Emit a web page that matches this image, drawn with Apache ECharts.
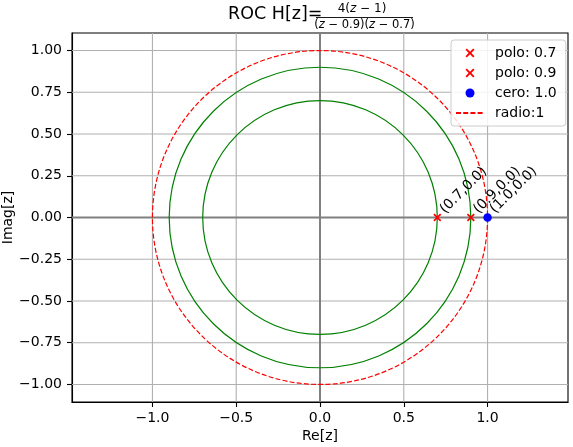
<!DOCTYPE html>
<html><head><meta charset="utf-8">
<script src="https://cdn.jsdelivr.net/npm/echarts@6/dist/echarts.min.js"></script>
<style>html,body{margin:0;padding:0;background:#fff}#c{width:573px;height:447px}</style>
</head><body><div id="c"></div>
<script>
// ---- data ----
const polos = [[0.7, 0.0], [0.9, 0.0]];
const ceros = [[1.0, 0.0]];
const rocRadios = [0.7, 0.9];
const unitRadio = [1.0];
const xTicks = [-1.0, -0.5, 0.0, 0.5, 1.0];
const yTicks = [-1.0, -0.75, -0.5, -0.25, 0.0, 0.25, 0.5, 0.75, 1.0];
const xRange = [-1.48, 1.48];
const yRange = [-1.105, 1.105];
const zeroLines = [0.0];

const FONT = 'DejaVu Sans';
const fmt = (v, d) => { let s = Math.abs(v) < 1e-9 ? (0).toFixed(d) : v.toFixed(d); return s.replace('-', '\u2212'); };
const ptLabel = p => '(' + p[0].toFixed(1) + ',' + p[1].toFixed(1) + ')';
const crossPath = 'path://M0,1.5 L1.5,0 L5,3.5 L8.5,0 L10,1.5 L6.5,5 L10,8.5 L8.5,10 L5,6.5 L1.5,10 L0,8.5 L3.5,5 Z';

const chart = echarts.init(document.getElementById('c'), null, {renderer: 'canvas'});

function circleSeries(name, radii, color, dash, z) {
  return {
    name: name, type: 'custom', z: z, silent: true, clip: false,
    data: radii.map(r => [r, 0]),
    encode: {x: 0, y: 1},
    renderItem: function (params, api) {
      const r = api.value(0);
      const c = api.coord([0, 0]);
      const s = api.size([r, r]);
      return {
        type: 'ellipse',
        shape: {cx: c[0], cy: c[1], rx: s[0], ry: s[1]},
        style: {fill: 'none', stroke: color, lineWidth: 1.2, lineDash: dash}
      };
    }
  };
}
function vLines(name, vals, color, width, z) {
  return {
    name: name, type: 'custom', z: z, silent: true, clip: false,
    data: vals.map(v => [v, 0]), encode: {x: 0, y: 1},
    renderItem: function (params, api) {
      const v = api.value(0);
      const a = api.coord([v, yRange[0]]), b = api.coord([v, yRange[1]]);
      return {type: 'line', shape: {x1: a[0], y1: a[1], x2: b[0], y2: b[1]}, style: {stroke: color, lineWidth: width}};
    }
  };
}
function hLines(name, vals, color, width, z) {
  return {
    name: name, type: 'custom', z: z, silent: true, clip: false,
    data: vals.map(v => [0, v]), encode: {x: 0, y: 1},
    renderItem: function (params, api) {
      const v = api.value(1);
      const a = api.coord([xRange[0], v]), b = api.coord([xRange[1], v]);
      return {type: 'line', shape: {x1: a[0], y1: a[1], x2: b[0], y2: b[1]}, style: {stroke: color, lineWidth: width}};
    }
  };
}
const labelCfg = {
  show: true, formatter: p => ptLabel(p.value), position: [14, 3], rotate: 45,
  align: 'left', verticalAlign: 'bottom', fontFamily: FONT, fontSize: 14, color: '#000'
};

const option = {
  animation: false,
  backgroundColor: '#fff',
  grid: {left: 72, right: 5, top: 33, bottom: 45, outerBoundsMode: 'none', containLabel: false, show: true, borderColor: '#000', borderWidth: 1.1, backgroundColor: 'transparent'},
  xAxis: {
    type: 'value', min: xRange[0], max: xRange[1],
    name: 'Re[z]', nameLocation: 'middle', nameGap: 27, nameMoveOverlap: false,
    nameTextStyle: {fontFamily: FONT, fontSize: 14, color: '#000'},
    axisLine: {show: true, onZero: false, lineStyle: {color: '#000', width: 1.1}},
    axisTick: {show: true, length: 5, customValues: xTicks, lineStyle: {color: '#000', width: 1.1}},
    axisLabel: {customValues: xTicks, margin: 9, fontFamily: FONT, fontSize: 14, color: '#000', formatter: v => fmt(v, 1)},
    splitLine: {show: false}
  },
  yAxis: {
    type: 'value', min: yRange[0], max: yRange[1],
    name: 'Imag[z]', nameLocation: 'middle', nameGap: 57, nameMoveOverlap: false,
    nameTextStyle: {fontFamily: FONT, fontSize: 14, color: '#000'},
    axisLine: {show: true, onZero: false, lineStyle: {color: '#000', width: 1.1}},
    axisTick: {show: true, length: 5, customValues: yTicks, lineStyle: {color: '#000', width: 1.1}},
    axisLabel: {customValues: yTicks, margin: 10, fontFamily: FONT, fontSize: 14, color: '#000', formatter: v => fmt(v, 2)},
    splitLine: {show: false}
  },
  legend: {
    data: ['polo: 0.7', 'polo: 0.9', 'cero: 1.0', {name: 'radio:1', itemStyle: {color: 'rgba(0,0,0,0)', borderWidth: 0, opacity: 0}}],
    orient: 'vertical', left: 451, top: 40,
    itemWidth: 28, itemHeight: 9, itemGap: 6,
    padding: [6, 9, 6, 4],
    backgroundColor: 'rgba(255,255,255,0.85)', borderColor: '#cccccc', borderWidth: 1, borderRadius: 3,
    textStyle: {fontFamily: FONT, fontSize: 14, color: '#000', padding: [0, 0, 0, 6]}
  },
  graphic: [
    {type: 'text', x: 228, y: 14.5, z: 100, style: {text: 'ROC H[z]=', font: '17.5px "DejaVu Sans"', fill: '#000', verticalAlign: 'middle', align: 'left'}},
    {type: 'text', x: 362, y: 9, z: 100, style: {
      text: '{n|4(}{i|z}{n| \u2212 1)}', align: 'center', verticalAlign: 'middle',
      rich: {n: {font: '12px "DejaVu Sans"', fill: '#000'}, i: {font: 'oblique 12px "DejaVu Sans"', fill: '#000'}}}},
    {type: 'line', z: 100, shape: {x1: 316, y1: 17.5, x2: 413, y2: 17.5}, style: {stroke: '#000', lineWidth: 0.9}},
    {type: 'text', x: 364.5, y: 25.5, z: 100, style: {
      text: '{n|(}{i|z}{n| \u2212 0.9)(}{i|z}{n| \u2212 0.7)}', align: 'center', verticalAlign: 'middle',
      rich: {n: {font: '11.5px "DejaVu Sans"', fill: '#000'}, i: {font: 'oblique 11.5px "DejaVu Sans"', fill: '#000'}}}}
  ],
  series: [
    vLines('gridx', xTicks, '#b0b0b0', 1.1, 1),
    hLines('gridy', yTicks, '#b0b0b0', 1.1, 1),
    vLines('ejeIm', zeroLines, '#808080', 2, 2),
    hLines('ejeRe', zeroLines, '#808080', 2, 2),
    circleSeries('roc', rocRadios, '#008000', null, 3),
    circleSeries('circ', unitRadio, '#ff0000', [5, 2.2], 3),
    {name: 'radio:1', type: 'line', data: [], symbol: 'none', lineStyle: {color: '#ff0000', type: [5, 2.2], width: 1.5}, itemStyle: {color: '#ff0000'}},
    {name: 'polo: 0.7', type: 'scatter', z: 5, data: [polos[0]], symbol: crossPath, symbolSize: 8, symbolKeepAspect: true, itemStyle: {color: '#ff0000', opacity: 1}, label: labelCfg},
    {name: 'polo: 0.9', type: 'scatter', z: 5, data: [polos[1]], symbol: crossPath, symbolSize: 8, symbolKeepAspect: true, itemStyle: {color: '#ff0000', opacity: 1}, label: labelCfg},
    {name: 'cero: 1.0', type: 'scatter', z: 5, data: ceros, symbol: 'circle', symbolSize: 8.5, itemStyle: {color: '#0000ff', opacity: 1}, label: labelCfg}
  ]
};
chart.setOption(option);
</script></body></html>
